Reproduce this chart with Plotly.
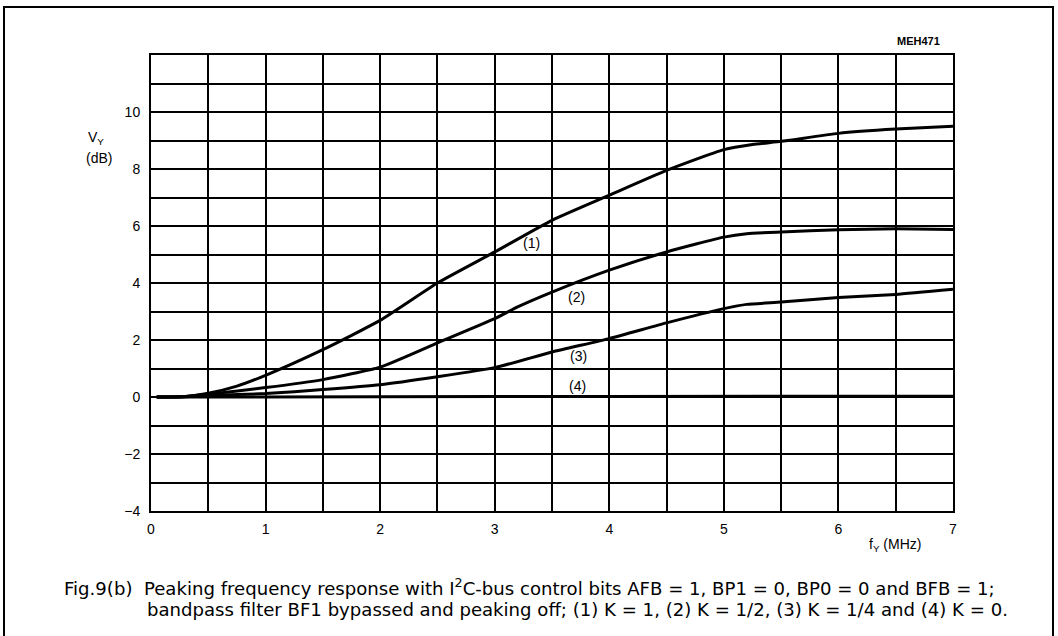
import plotly.graph_objects as go

# ---- data ----
freq_1 = [0.05, 0.3, 0.5, 0.75, 1.0, 1.5, 2.0, 2.5, 3.0, 3.5, 4.0, 4.5, 5.0, 5.25, 5.5, 6.0, 6.5, 7.0]
vy_1 = [0.0, 0.02, 0.13, 0.38, 0.76, 1.66, 2.69, 4.0, 5.09, 6.2, 7.08, 7.95, 8.68, 8.86, 8.97, 9.25, 9.4, 9.5]

freq_2 = [0.05, 0.3, 0.5, 1.0, 1.5, 2.0, 2.5, 3.0, 3.2, 3.5, 4.0, 4.5, 5.0, 5.2, 5.5, 6.0, 6.5, 7.0]
vy_2 = [0.0, 0.02, 0.1, 0.33, 0.61, 1.05, 1.9, 2.75, 3.16, 3.68, 4.45, 5.09, 5.61, 5.73, 5.79, 5.87, 5.9, 5.88]

freq_3 = [0.05, 0.3, 0.5, 1.0, 1.5, 2.0, 2.5, 3.0, 3.5, 4.0, 4.5, 5.0, 5.2, 5.5, 6.0, 6.5, 7.0]
vy_3 = [0.0, 0.01, 0.05, 0.12, 0.26, 0.43, 0.71, 1.03, 1.58, 2.05, 2.6, 3.1, 3.25, 3.33, 3.49, 3.6, 3.78]

freq_4 = [0.05, 2.0, 4.0, 7.0]
vy_4 = [0.0, 0.01, 0.02, 0.03]

curve_labels = ["(1)", "(2)", "(3)", "(4)"]
label_x = [3.32, 3.71, 3.73, 3.72]
label_y = [5.4, 3.51, 1.44, 0.38]

x_tick_vals = [i * 0.5 for i in range(15)]
x_tick_text = [str(int(v)) if v == int(v) else "" for v in x_tick_vals]
y_tick_vals = list(range(-4, 13))
y_tick_text = [("−" + str(-v) if v < 0 else str(v)) if (v % 2 == 0 and v <= 10) else "" for v in y_tick_vals]

caption_1 = "Fig.9(b)  Peaking frequency response with I<sup>2</sup>C-bus control bits AFB = 1, BP1 = 0, BP0 = 0 and BFB = 1;"
caption_2 = "bandpass filter BF1 bypassed and peaking off; (1) K = 1, (2) K = 1/2, (3) K = 1/4 and (4) K = 0."

FONT = "Liberation Sans, Arial, Helvetica, sans-serif"
CAP_FONT = "DejaVu Sans, Liberation Sans, sans-serif"

fig = go.Figure()
for fx, fy in [(freq_1, vy_1), (freq_2, vy_2), (freq_3, vy_3), (freq_4, vy_4)]:
    fig.add_trace(go.Scatter(x=fx, y=fy, mode="lines",
                             line=dict(color="black", width=3, shape="spline", smoothing=0.5),
                             showlegend=False, hoverinfo="skip"))

for t, x, y in zip(curve_labels, label_x, label_y):
    fig.add_annotation(x=x, y=y, text=t, showarrow=False,
                       font=dict(family=FONT, size=14, color="black"))

W, H = 1058, 636
L, R, T, B = 151, 105, 55, 125
fig.update_layout(
    width=W, height=H, autosize=False,
    margin=dict(l=L, r=R, t=T, b=B),
    paper_bgcolor="white", plot_bgcolor="white",
    font=dict(family=FONT, color="black"),
)
fig.update_xaxes(range=[0, 7], tickmode="array", tickvals=x_tick_vals, ticktext=x_tick_text,
                 showgrid=True, gridcolor="black", gridwidth=1.5,
                 showline=True, linecolor="black", linewidth=2, mirror=True,
                 zeroline=False, ticks="", ticklabelstandoff=4, tickfont=dict(size=14, color="black"))
fig.update_yaxes(range=[-4, 12], tickmode="array", tickvals=y_tick_vals, ticktext=y_tick_text,
                 showgrid=True, gridcolor="black", gridwidth=1.5,
                 showline=True, linecolor="black", linewidth=2, mirror=True,
                 zeroline=False, ticks="", ticklabelstandoff=6, tickfont=dict(size=14, color="black"))

pw, ph = W - L - R, H - T - B
def px(xp):
    return (xp - L) / pw
def py(yp):
    return (H - B - yp) / ph

# outer frame
fig.add_shape(type="rect", xref="paper", yref="paper",
              x0=px(4), x1=px(1053), y0=py(645), y1=py(7),
              line=dict(color="black", width=2), layer="below")

def txt(xp, yp, text, size, xanchor="center", bold=False, family=FONT):
    fig.add_annotation(xref="paper", yref="paper", x=px(xp), y=py(yp),
                       text=("<b>%s</b>" % text) if bold else text,
                       showarrow=False, xanchor=xanchor, yanchor="middle",
                       font=dict(family=family, size=size, color="black"))

txt(918, 41, "MEH471", 11, bold=True)
txt(96, 138, "V<sub>Y</sub>", 14)
txt(99, 158, "(dB)", 14)
txt(895, 545, "f<sub>Y</sub> (MHz)", 14)
txt(62, 587, caption_1, 18.1, xanchor="left", family=CAP_FONT)
txt(145, 609, caption_2, 18.1, xanchor="left", family=CAP_FONT)

fig.write_html("out.html", config={"displayModeBar": False},
               post_script="document.body.style.margin='0';")
